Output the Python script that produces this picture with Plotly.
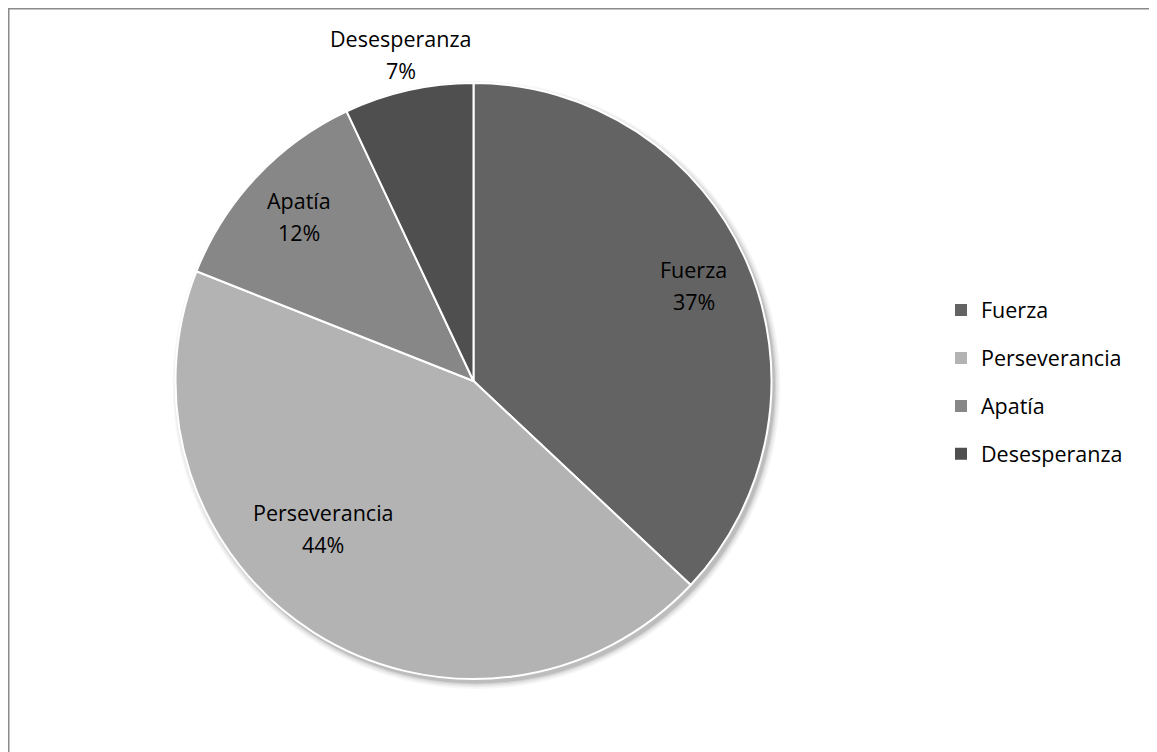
import math
import plotly.graph_objects as go

# ---- data ----
categories = ["Fuerza", "Perseverancia", "Apatía", "Desesperanza"]
values = [37, 44, 12, 7]

# ---- styles ----
colors = ["#636363", "#b3b3b3", "#878787", "#4f4f4f"]
FONT = "Open Sans"
FS = 21.5
LINE_GAP = 32  # px between the two lines of a data label
W, H = 1157, 752
OFF = 8  # page body margin
CX, CY, R = 473.5 - OFF, 381 - OFF, 298  # pie centre / radius in px (from top-left)
# label placement (radius fraction, angle offset from slice middle in degrees)
label_place = [(0.805, 0.0), (0.707, 13.0), (0.805, 0.0), (1.121, 0.0)]


def dom(cx, cy, r):
    return dict(x=[(cx - r) / W, (cx + r) / W],
                y=[(H - cy - r) / H, (H - cy + r) / H])


fig = go.Figure()

# soft shadow layers
for dr, a in [(6, 0.03), (4.5, 0.04), (3, 0.05), (1.5, 0.07), (0.5, 0.09)]:
    fig.add_trace(go.Pie(values=[1], labels=["s"], domain=dom(CX + 3, CY + 4, R + dr),
                         marker=dict(colors=[f"rgba(0,0,0,{a})"], line=dict(width=0)),
                         textinfo="none", hoverinfo="skip", showlegend=False, sort=False))

fig.add_trace(go.Pie(
    labels=categories, values=values, sort=False, direction="clockwise", rotation=0,
    domain=dom(CX, CY, R),
    marker=dict(colors=colors, line=dict(color="white", width=2)),
    textinfo="none", showlegend=False, hoverinfo="label+percent"))

# data labels
total = sum(values)
cum = 0
for cat, v, (f, off) in zip(categories, values, label_place):
    mid = (cum + v / 2) / total * 360 + off
    cum += v
    th = math.radians(mid)
    px = CX + f * R * math.sin(th)
    py = CY - f * R * math.cos(th)
    pct = round(v / total * 100)
    for txt, dy in [(cat, -LINE_GAP / 2), (f"{pct}%", LINE_GAP / 2)]:
        fig.add_annotation(x=px / W, y=(H - (py + dy)) / H, xref="paper", yref="paper",
                           text=txt, showarrow=False,
                           font=dict(family=FONT, size=FS, color="#000000"),
                           xanchor="center", yanchor="middle", align="center")

# legend entries
for cat, c in zip(categories, colors):
    fig.add_trace(go.Scatter(x=[None], y=[None], mode="markers", name=cat,
                             legendgroup=cat,
                             marker=dict(symbol="square", size=12, color=c)))

# chart border
fig.add_shape(type="rect", xref="paper", yref="paper",
              x0=0.75 / W, x1=(1156 - OFF) / W, y0=-0.02, y1=(H - 0.75) / H,
              line=dict(color="#8a8a8a", width=1.5), fillcolor="rgba(0,0,0,0)")

fig.update_layout(
    width=W, height=H, margin=dict(l=0, r=0, t=0, b=0),
    paper_bgcolor="white", plot_bgcolor="white",
    xaxis=dict(visible=False), yaxis=dict(visible=False),
    showlegend=True,
    legend=dict(x=933 / W, y=(H - 382 + OFF) / H, xanchor="left", yanchor="middle",
                font=dict(family=FONT, size=FS, color="#000000"),
                tracegroupgap=17, bgcolor="rgba(0,0,0,0)", itemclick=False),
)

fig.write_html("out.html")
